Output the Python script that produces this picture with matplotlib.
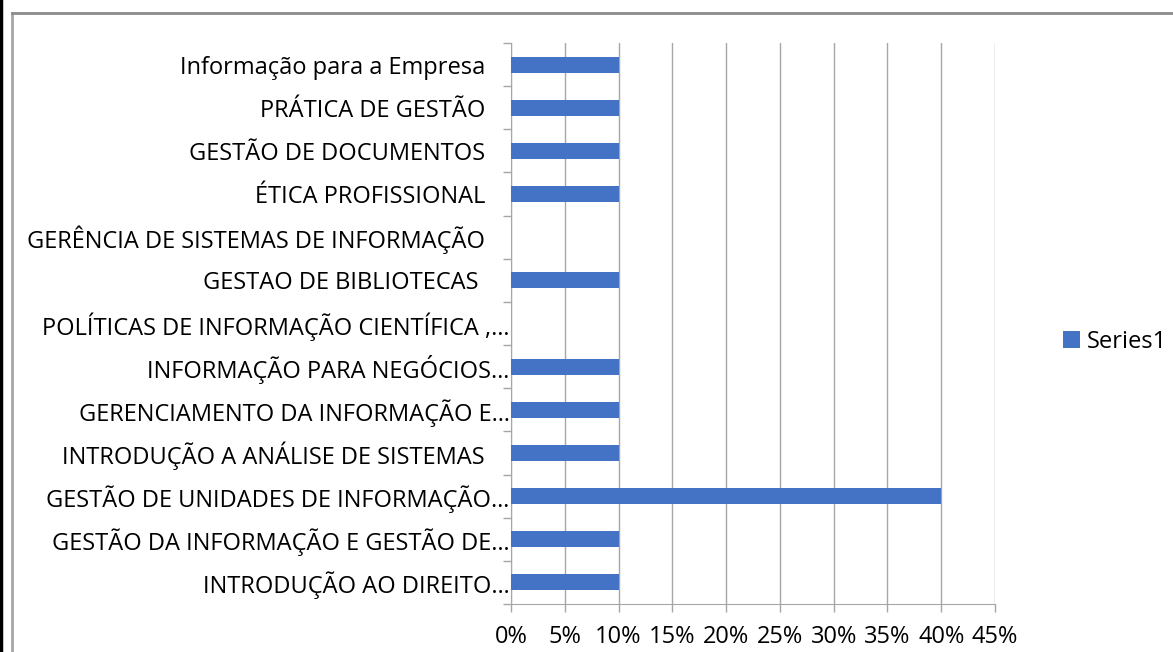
import matplotlib.pyplot as plt
from matplotlib.lines import Line2D
from matplotlib.ticker import FuncFormatter
import numpy as np

# categories listed bottom to top (as drawn)
categories = [
    "INTRODUÇÃO AO DIREITO…",
    "GESTÃO DA INFORMAÇÃO E GESTÃO DE…",
    "GESTÃO DE UNIDADES DE INFORMAÇÃO…",
    "INTRODUÇÃO A ANÁLISE DE SISTEMAS    ",
    "GERENCIAMENTO DA INFORMAÇÃO E…",
    "INFORMAÇÃO PARA NEGÓCIOS…",
    "POLÍTICAS DE INFORMAÇÃO CIENTÍFICA ,…",
    "GESTAO DE BIBLIOTECAS     ",
    "GERÊNCIA DE SISTEMAS DE INFORMAÇÃO    ",
    "ÉTICA PROFISSIONAL    ",
    "GESTÃO DE DOCUMENTOS    ",
    "PRÁTICA DE GESTÃO    ",
    "Informação para a Empresa    ",
]
values = [0.10, 0.10, 0.40, 0.10, 0.10, 0.10, 0.0, 0.10, 0.0, 0.10, 0.10, 0.10, 0.10]
series_name = "Series1"
xticks = [0, 0.05, 0.10, 0.15, 0.20, 0.25, 0.30, 0.35, 0.40, 0.45]

plt.rcParams['font.family'] = ['Open Sans', 'DejaVu Sans']

fig = plt.figure(figsize=(11.73, 6.52), dpi=100)
W, H = 1173, 652
ax = fig.add_axes([511 / W, 1 - 604 / H, (995 - 511) / W, (604 - 43) / H])

y = np.arange(len(categories))
ax.barh(y, values, height=0.37, color='#4472C4', label=series_name, zorder=3)

ax.set_xlim(0, 0.45)
ax.set_ylim(-0.5, len(categories) - 0.5)
ax.set_xticks(xticks)
ax.xaxis.set_major_formatter(FuncFormatter(lambda v, p: f"{v * 100:.0f}%"))
ax.set_yticks(y)
ax.set_yticklabels(categories)
ax.set_yticks(np.arange(-0.5, len(categories), 1), minor=True)
ax.tick_params(axis='y', which='major', length=0, pad=1, labelsize=17)
ax.tick_params(axis='y', which='minor', length=6, color='#A6A6A6', width=1)
ax.tick_params(axis='x', length=6, color='#A6A6A6', width=1, labelsize=17, pad=9)

ax.grid(axis='x', color='#A6A6A6', linewidth=1, zorder=0)
for s in ['top', 'right']:
    ax.spines[s].set_visible(False)
for s in ['left', 'bottom']:
    ax.spines[s].set_color('#A6A6A6')

leg = fig.legend(loc='center left', bbox_to_anchor=(1042 / W, 1 - 342 / H), frameon=False,
                 fontsize=17, handlelength=0.7, handleheight=0.7, handletextpad=0.3)

# chart border and page edge
fig.add_artist(Line2D([12 / W, 12 / W], [0, 1 - 13 / H], color='#A6A6A6', lw=2))
fig.add_artist(Line2D([12 / W, 1], [1 - 13 / H, 1 - 13 / H], color='#8C8C8C', lw=2))
fig.add_artist(Line2D([1 / W, 1 / W], [0, 1], color='black', lw=2.5))

fig.savefig('out.png', dpi=100)
